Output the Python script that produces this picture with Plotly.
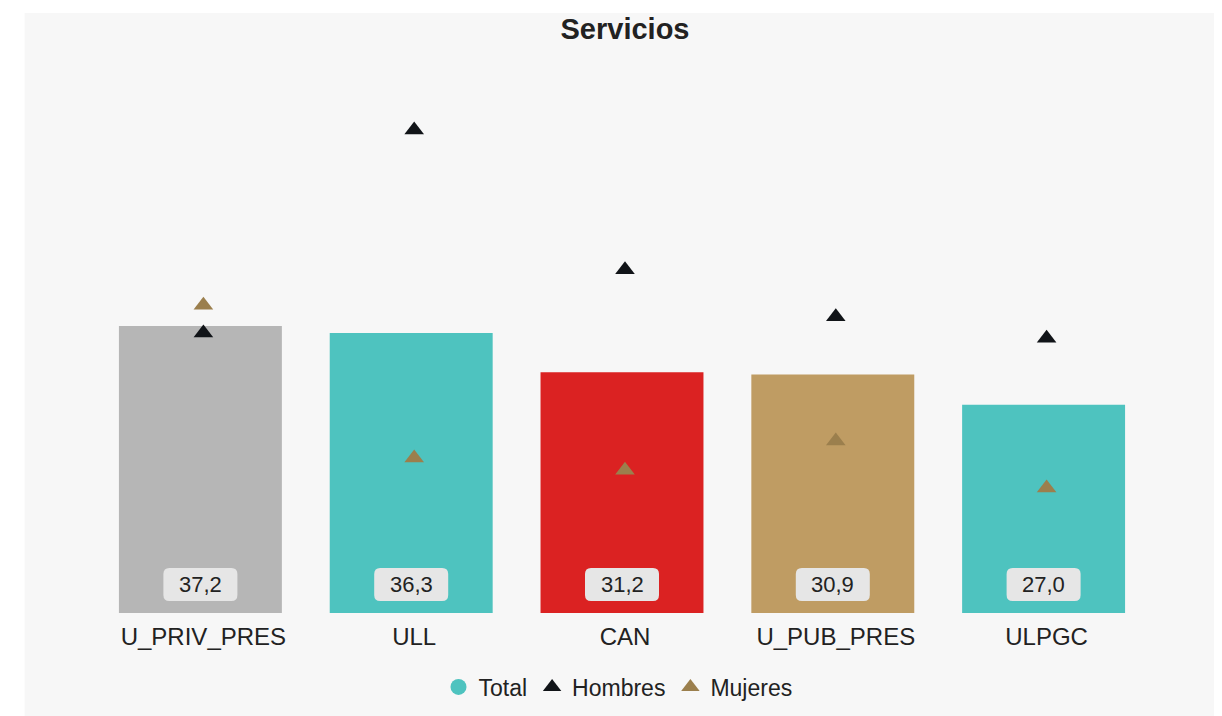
import plotly.graph_objects as go

categories = ["U_PRIV_PRES", "ULL", "CAN", "U_PUB_PRES", "ULPGC"]
total = [37.2, 36.3, 31.2, 30.9, 27.0]
hombres = [36.3, 62.6, 44.5, 38.4, 35.6]
mujeres = [39.9, 20.1, 18.5, 22.3, 16.2]
bar_colors = ["#b6b6b6", "#4ec3bf", "#db2222", "#bf9c63", "#4ec3bf"]
labels = [f"{v:.1f}".replace(".", ",") for v in total]

FONT = "Liberation Sans, Arial, sans-serif"
BG = "#f7f7f7"

fig = go.Figure()
fig.add_trace(go.Bar(
    x=categories, y=total, marker=dict(color=bar_colors, line=dict(width=0)),
    showlegend=False, name="Total", hoverinfo="skip"))
# legend-only entry for Total
fig.add_trace(go.Scatter(
    x=[None], y=[None], mode="markers", name="Total",
    marker=dict(symbol="circle", size=20, color="#4ec3bf")))
fig.add_trace(go.Scatter(
    x=categories, y=hombres, mode="markers", name="Hombres", xaxis="x2",
    marker=dict(symbol="triangle-up", size=17, color="#111418")))
fig.add_trace(go.Scatter(
    x=categories, y=mujeres, mode="markers", name="Mujeres", xaxis="x2",
    marker=dict(symbol="triangle-up", size=17, color="#9b7f4d")))

shapes = [dict(type="rect", xref="paper", yref="paper",
               x0=-0.0668, x1=1.2, y0=-0.3, y1=1.085,
               fillcolor=BG, line=dict(width=0), layer="below")]
r = 6
w, h0, h1 = 37, 12, 45
path = (f"M {-w+r},{h0} L {w-r},{h0} Q {w},{h0} {w},{h0+r} L {w},{h1-r} Q {w},{h1} {w-r},{h1} "
        f"L {-w+r},{h1} Q {-w},{h1} {-w},{h1-r} L {-w},{h0+r} Q {-w},{h0} {-w+r},{h0} Z")
annotations = []
for c, lab in zip(categories, labels):
    shapes.append(dict(type="path", xref="x", yref="y", xsizemode="pixel", ysizemode="pixel",
                       xanchor=c, yanchor=0, path=path,
                       fillcolor="#e6e6e6", line=dict(width=0), layer="above"))
    annotations.append(dict(x=c, y=0, xref="x", yref="y", text=lab, showarrow=False,
                            yanchor="middle", yshift=29,
                            font=dict(family=FONT, size=22, color="#222222")))

fig.update_layout(
    width=1222, height=716,
    margin=dict(l=86.5, r=80.5, t=52, b=111, autoexpand=False),
    paper_bgcolor="white", plot_bgcolor=BG,
    title=dict(text="<b>Servicios</b>", x=617 / 1222, xanchor="center", y=1 - 21 / 716,
               yanchor="middle", font=dict(family=FONT, size=29, color="#222222")),
    bargap=0.227,
    xaxis=dict(type="category", categoryorder="array", categoryarray=categories,
               showgrid=False, zeroline=False, showline=False, ticks="",
               showticklabels=False),
    xaxis2=dict(type="category", categoryorder="array", categoryarray=categories,
                overlaying="x", side="bottom", range=[-0.5 - 0.0142, 4.5 - 0.0142],
                showgrid=False, zeroline=False, showline=False, ticks="",
                ticklabelstandoff=7,
                tickfont=dict(family=FONT, size=24, color="#222222")),
    yaxis=dict(range=[0, 553 / 7.715], visible=False, showgrid=False, zeroline=False),
    legend=dict(orientation="h", x=610 / 1222, xanchor="center", xref="container",
                y=1 - 679 / 716, yanchor="middle", yref="container",
                font=dict(family=FONT, size=23, color="#222222"), bgcolor="rgba(0,0,0,0)",
                itemwidth=30),
    shapes=shapes, annotations=annotations, showlegend=True,
)

fig.write_html("out.html")
